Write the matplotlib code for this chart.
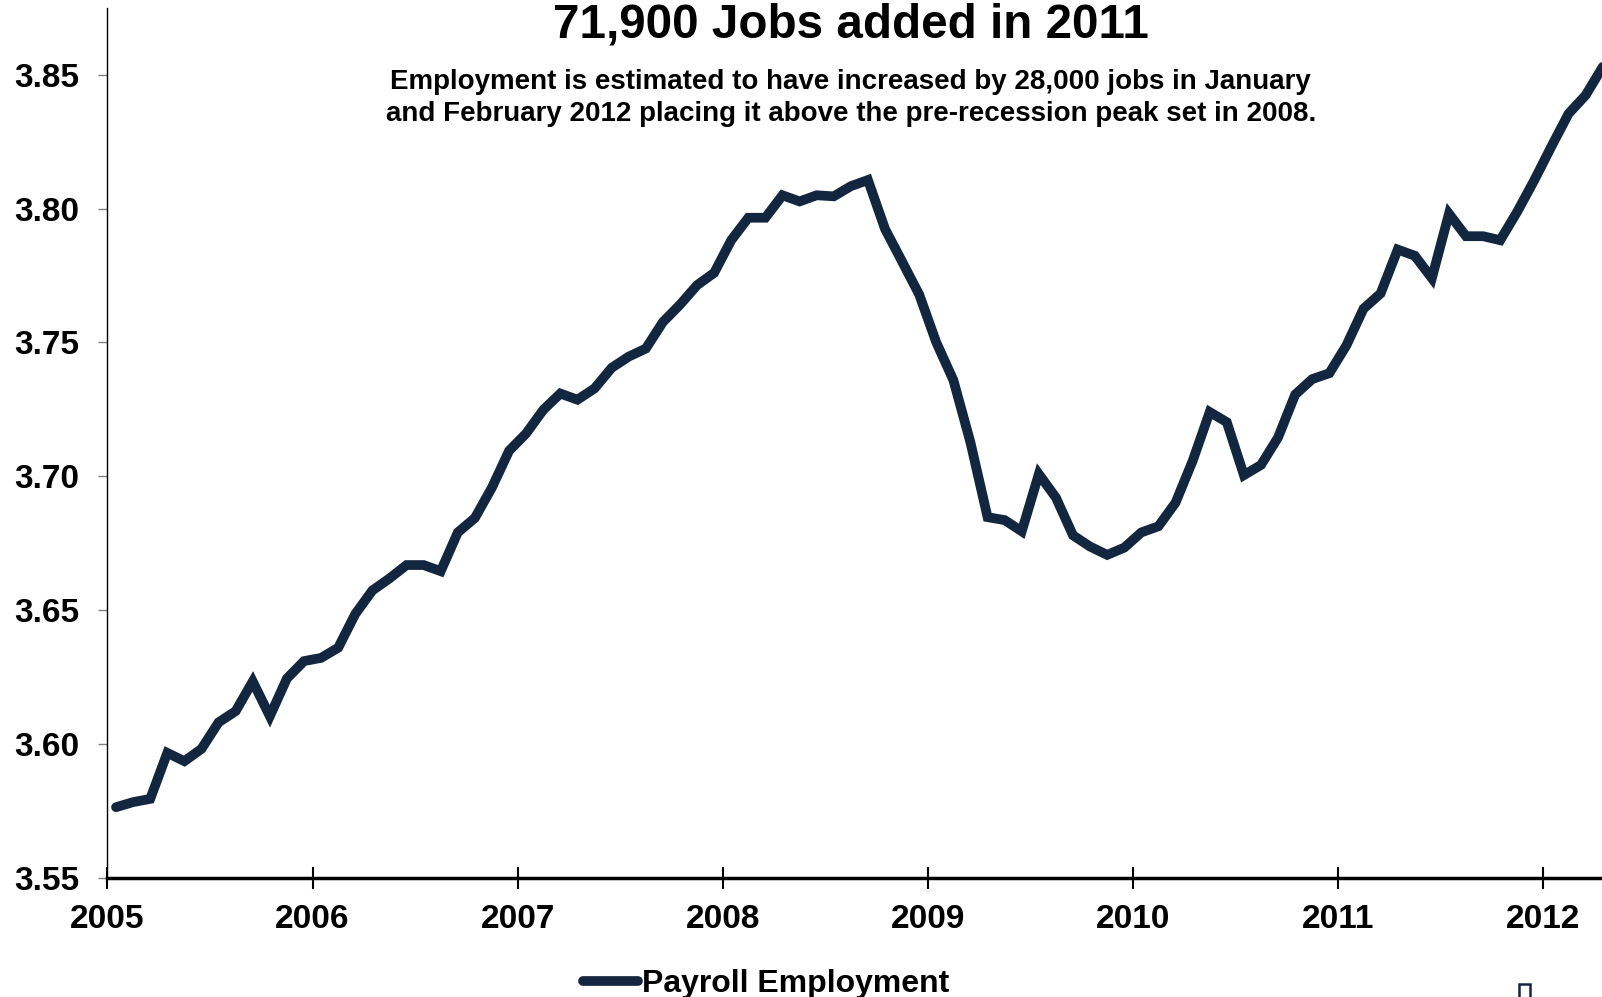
import matplotlib.pyplot as plt
from matplotlib.patches import Rectangle
import numpy as np

# Payroll employment (millions), monthly Jan 2005 - Apr 2012
years = [2005, 2006, 2007, 2008, 2009, 2010, 2011, 2012]
emp_2005 = [3.5763, 3.5782, 3.5794, 3.5966, 3.5935, 3.5981, 3.6080, 3.6122, 3.6233, 3.6103, 3.6244, 3.6309]
emp_2006 = [3.6321, 3.6359, 3.6485, 3.6573, 3.6618, 3.6668, 3.6668, 3.6645, 3.6790, 3.6844, 3.6958, 3.7095]
emp_2007 = [3.7160, 3.7248, 3.7309, 3.7286, 3.7328, 3.7405, 3.7447, 3.7477, 3.7576, 3.7641, 3.7714, 3.7760]
emp_2008 = [3.7882, 3.7966, 3.7966, 3.8050, 3.8027, 3.8050, 3.8046, 3.8084, 3.8107, 3.7924, 3.7802, 3.7679]
emp_2009 = [3.7500, 3.7359, 3.7126, 3.6847, 3.6836, 3.6794, 3.7008, 3.6920, 3.6779, 3.6737, 3.6706, 3.6733]
emp_2010 = [3.6790, 3.6813, 3.6901, 3.7057, 3.7240, 3.7202, 3.7004, 3.7042, 3.7145, 3.7305, 3.7363, 3.7385]
emp_2011 = [3.7489, 3.7626, 3.7683, 3.7847, 3.7824, 3.7740, 3.7981, 3.7897, 3.7897, 3.7882, 3.7989, 3.8107]
emp_2012 = [3.8233, 3.8355, 3.8424, 3.8530]

series = [emp_2005, emp_2006, emp_2007, emp_2008, emp_2009, emp_2010, emp_2011, emp_2012]

# monthly points, placed mid-month
x = []
y = []
for yr, vals in zip(years, series):
    for m, v in enumerate(vals):
        x.append(yr + (m + 0.5) / 12)
        y.append(v)

navy = '#13263f'
arial = ['Liberation Sans', 'DejaVu Sans']

fig = plt.figure(figsize=(16.02, 9.97), dpi=100)
ax = fig.add_axes([0.0671, 0.1198, 0.9329, 0.8722])

line, = ax.plot(x, y, color=navy, lw=7, solid_capstyle='round',
                solid_joinstyle='miter', label='Payroll Employment')

ax.set_xlim(2005, 2012.288)
ax.set_ylim(3.55, 3.875)

ax.set_xticks(years)
ax.set_xticklabels([str(v) for v in years], fontfamily=arial,
                   fontweight='bold', fontsize=24)
yt = [3.55, 3.60, 3.65, 3.70, 3.75, 3.80, 3.85]
ax.set_yticks(yt)
ax.set_yticklabels([f'{v:.2f}' for v in yt], fontfamily=arial,
                   fontweight='bold', fontsize=24)

ax.tick_params(axis='x', direction='inout', length=16.5, width=1.5,
               color='black', pad=11)
ax.tick_params(axis='y', direction='out', length=6.3, width=1,
               color='#808080', pad=14)

ax.spines['top'].set_visible(False)
ax.spines['right'].set_visible(False)
ax.spines['bottom'].set_linewidth(2.5)
ax.spines['bottom'].set_color('black')
ax.spines['left'].set_linewidth(1)
ax.spines['left'].set_color('black')

fig.text(0.531, 0.962, '71,900 Jobs added in 2011', ha='center', va='baseline',
         fontfamily=arial, fontweight='bold', fontsize=34.3)
fig.text(0.531, 0.911,
         'Employment is estimated to have increased by 28,000 jobs in January',
         ha='center', va='baseline', fontfamily=arial, fontweight='bold', fontsize=20)
fig.text(0.531, 0.879,
         'and February 2012 placing it above the pre-recession peak set in 2008.',
         ha='center', va='baseline', fontfamily=arial, fontweight='bold', fontsize=20)

leg = fig.legend(handles=[line], loc='center', bbox_to_anchor=(0.478, 0.013),
                 frameon=False, handlelength=1.75, handletextpad=0.1,
                 prop={'family': arial, 'weight': 'bold', 'size': 23})

# partial logo box at bottom right
fig.patches.append(Rectangle((0.9485, -0.005), 0.0068, 0.018, transform=fig.transFigure,
                             fill=False, edgecolor=navy, linewidth=1.8))

fig.savefig('out.png', dpi=100)
